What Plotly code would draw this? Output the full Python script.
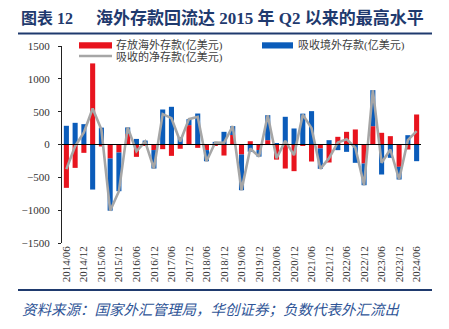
import plotly.graph_objects as go

# ---------------- data (亿美元) ----------------
quarters = [
    "2014/06", "2014/09", "2014/12", "2015/03", "2015/06", "2015/09", "2015/12",
    "2016/03", "2016/06", "2016/09", "2016/12", "2017/03", "2017/06", "2017/09",
    "2017/12", "2018/03", "2018/06", "2018/09", "2018/12", "2019/03", "2019/06",
    "2019/09", "2019/12", "2020/03", "2020/06", "2020/09", "2020/12", "2021/03",
    "2021/06", "2021/09", "2021/12", "2022/03", "2022/06", "2022/09", "2022/12",
    "2023/03", "2023/06", "2023/09", "2023/12", "2024/03", "2024/06",
]
tick_labels = [
    "2014/06", "2014/12", "2015/06", "2015/12", "2016/06", "2016/12", "2017/06",
    "2017/12", "2018/06", "2018/12", "2019/06", "2019/12", "2020/06", "2020/12",
    "2021/06", "2021/12", "2022/06", "2022/12", "2023/06", "2023/12", "2024/06",
]
deposits_abroad = [  # 存放海外存款
    -660, -356, -127, 1235, -30, -213, -122, 160, -188, -15, -85, -71, -173, -65,
    295, -51, -85, -10, -168, 145, -152, 50, -85, 66, -230, -366, -406, -15,
    -259, -60, -274, 117, 193, 229, -290, 279, 178, 127, -340, -76, 457,
]
foreign_deposits = [  # 吸收境外存款
    285, 330, 310, -686, 257, -795, -589, 100, 85, 60, -281, 533, 574, 110,
    91, 472, -170, 40, 193, 135, -544, -110, -100, 381, 20, 422, 244, 470,
    508, -310, 66, -86, -112, -279, -330, 549, -457, -203, -193, 142, -254,
]
net_deposits = [  # 吸收的净存款
    -375, -26, 183, 549, 227, -1008, -711, 260, -103, 45, -366, 462, 401, 45,
    386, 421, -255, 30, 25, 280, -696, -60, -185, 447, -210, 56, -162, 455,
    249, -370, -208, 31, 81, -50, -620, 828, -279, -76, -533, 66, 203,
]
y_ticks = [-1500, -1000, -500, 0, 500, 1000, 1500]

names = ["存放海外存款(亿美元)", "吸收境外存款(亿美元)", "吸收的净存款(亿美元)"]

RED = "#E8141E"
BLUE = "#0B5CBA"
GRAY = "#A6A6A6"
NAVY = "#1F3A6E"

W, H = 449, 329
L, R, T, B = 62, 28, 46, 86
PW, PH = W - L - R, H - T - B


def px(xp):
    return (xp - L) / PW


def py(yp):
    return (H - B - yp) / PH


fig = go.Figure()
fig.add_bar(x=quarters, y=deposits_abroad, name=names[0], marker_color=RED,
            marker_line_width=0)
fig.add_bar(x=quarters, y=foreign_deposits, name=names[1], marker_color=BLUE,
            marker_line_width=0)
fig.add_scatter(x=quarters, y=net_deposits, name=names[2], mode="lines",
                line=dict(color=GRAY, width=2.6))

serif = "Liberation Serif, Noto Sans CJK SC"
fig.update_layout(
    width=W, height=H, autosize=False,
    margin=dict(l=L, r=R, t=T, b=B, pad=0),
    barmode="relative", bargap=0.42,
    plot_bgcolor="white", paper_bgcolor="white",
    showlegend=False,
    xaxis=dict(type="category", range=[-0.5, len(quarters) - 0.5],
               tickmode="array", tickvals=tick_labels, ticktext=tick_labels,
               tickangle=-90, tickfont=dict(family=serif, size=11, color="#333333"),
               showline=False, showgrid=False, zeroline=False, ticks=""),
    yaxis=dict(range=[-1500, 1500], tickmode="array", tickvals=y_ticks,
               tickfont=dict(family=serif, size=11, color="#333333"),
               showline=True, linecolor="#222222", linewidth=1,
               ticks="outside", ticklen=3, tickcolor="#222222",
               ticklabelstandoff=6,
               showgrid=False, zeroline=False),
)

# zero line above bars
fig.add_shape(type="line", xref="paper", yref="y", x0=0, x1=1, y0=0, y1=0,
              line=dict(color="black", width=1), layer="above")

shapes = [
    # title rule and bottom rule
    dict(type="line", xref="paper", yref="paper", x0=px(18), x1=px(432),
         y0=py(33.5), y1=py(33.5), line=dict(color=NAVY, width=2)),
    dict(type="line", xref="paper", yref="paper", x0=px(18), x1=px(432),
         y0=py(290), y1=py(290), line=dict(color=NAVY, width=2)),
    # legend symbols
    dict(type="rect", xref="paper", yref="paper", x0=px(79), x1=px(112),
         y0=py(48.5), y1=py(42.3), fillcolor=RED, line=dict(width=0)),
    dict(type="rect", xref="paper", yref="paper", x0=px(262), x1=px(293),
         y0=py(48.5), y1=py(42.3), fillcolor=BLUE, line=dict(width=0)),
    dict(type="line", xref="paper", yref="paper", x0=px(79), x1=px(112),
         y0=py(56), y1=py(56), line=dict(color=GRAY, width=2.6)),
]
for s in shapes:
    fig.add_shape(**s)

ann_font = dict(family=serif, size=11, color="#404040")
annotations = [
    dict(text=names[0], x=px(114), y=py(45.5), font=ann_font),
    dict(text=names[1], x=px(296), y=py(45.5), font=ann_font),
    dict(text=names[2], x=px(114), y=py(56.5), font=ann_font),
    dict(text="<b>图表 12</b>", x=px(19), y=py(18),
         font=dict(family=serif, size=16, color=NAVY)),
    dict(text="<b>海外存款回流达 2015 年 Q2 以来的最高水平</b>", x=px(94), y=py(18),
         font=dict(family=serif, size=17, color=NAVY)),
    dict(text="<i>资料来源：国家外汇管理局，华创证券；负数代表外汇流出</i>",
         x=px(20), y=py(308), font=dict(family="Noto Sans CJK SC", size=14.5,
                                         color="#2F5597")),
]
for a in annotations:
    fig.add_annotation(xref="paper", yref="paper", xanchor="left", yanchor="middle",
                       showarrow=False, **a)

fig.write_html("out.html")
